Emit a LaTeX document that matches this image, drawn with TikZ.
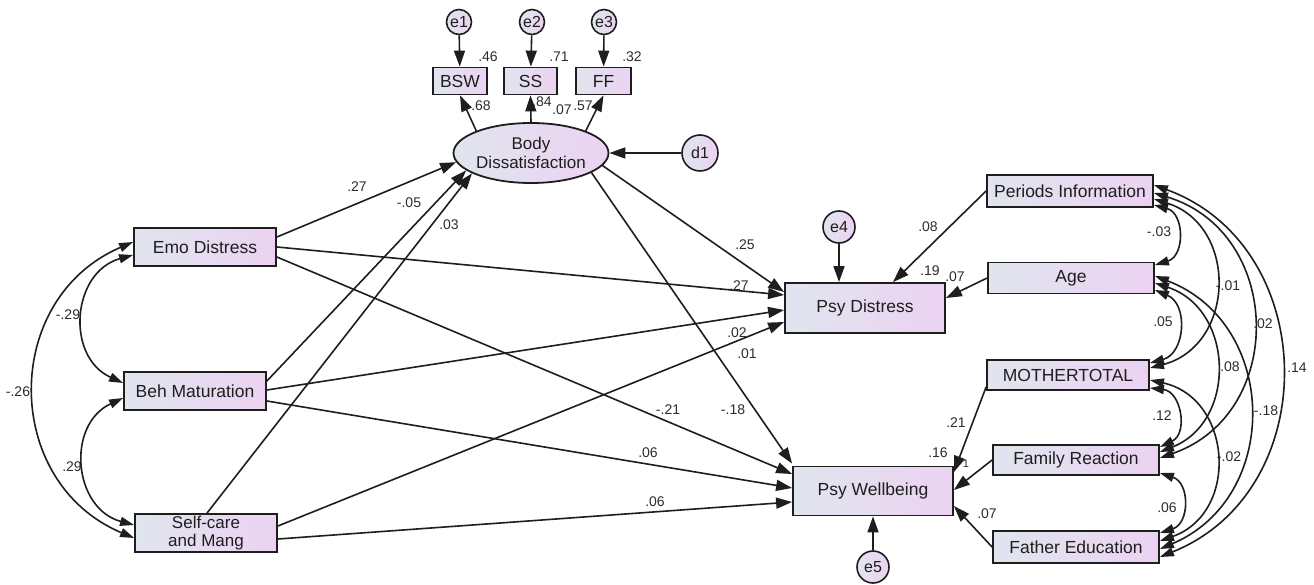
\documentclass[tikz,border=0pt]{standalone}
\usepackage{fontspec}
\setmainfont{Liberation Sans}
\usetikzlibrary{arrows.meta,shapes.geometric}
\definecolor{gL}{RGB}{224,229,238}
\definecolor{gR}{RGB}{236,210,242}
\definecolor{ink}{RGB}{30,30,30}
\definecolor{lblc}{RGB}{45,45,45}
\tikzset{
  obsbox/.style={draw=ink, line width=1.8pt, rectangle, left color=gL, right color=gR,
    inner sep=0pt, align=center, text=ink, font=\fontsize{17.5}{17}\selectfont},
  errc/.style={draw=ink, line width=1.6pt, circle, left color=gL, right color=gR,
    inner sep=0pt, text=ink, font=\fontsize{16}{16}\selectfont},
  latv/.style={draw=ink, line width=1.8pt, ellipse, left color=gL, right color=gR,
    inner sep=0pt, align=center, text=ink, font=\fontsize{17}{19}\selectfont},
  lbl/.style={inner sep=0pt, text=lblc, font=\fontsize{14}{15}\selectfont},
  reg/.style={draw=ink, line width=1.6pt, -{Triangle[length=16pt,width=11pt]}},
  cov/.style={draw=ink, line width=1.6pt, {Triangle[length=14pt,width=9pt]}-{Triangle[length=14pt,width=9pt]}},
}
\begin{document}
\begin{tikzpicture}[x=1pt,y=-1pt]
\useasboundingbox (0,0) rectangle (1314,585);
\fill[white] (0,0) rectangle (1314,585);

% error circles top
\node[errc, minimum size=25pt] (e1) at (459,22) {e1};
\node[errc, minimum size=25pt] (e2) at (532,22) {e2};
\node[errc, minimum size=25pt] (e3) at (604,22) {e3};
% indicators
\node[obsbox, minimum width=54pt, minimum height=27pt] (BSW) at (460,81) {BSW};
\node[obsbox, minimum width=53pt, minimum height=27pt] (SS) at (530.5,81) {SS};
\node[obsbox, minimum width=55pt, minimum height=27pt] (FF) at (603.5,81) {FF};
% latent
\node[latv, minimum width=148pt, minimum height=60pt] (BD) at (531,153) {Body\\Dissatisfaction};
\node[errc, minimum size=36pt] (d1) at (700,153) {d1};

% left exogenous
\node[obsbox, minimum width=142pt, minimum height=38pt] (Emo) at (205,247) {Emo Distress};
\node[obsbox, minimum width=142pt, minimum height=38pt] (Beh) at (195,391) {Beh Maturation};
\node[obsbox, minimum width=142pt, minimum height=38pt, font=\fontsize{17}{18}\selectfont] (Self) at (206,533) {Self-care\\and Mang};

% outcomes
\node[obsbox, minimum width=160pt, minimum height=50pt] (PD) at (865,308) {Psy Distress};
\node[obsbox, minimum width=160pt, minimum height=49pt] (PW) at (873,491) {Psy Wellbeing};
\node[errc, minimum size=32pt] (e4) at (839,227) {e4};
\node[errc, minimum size=32pt] (e5) at (873,567) {e5};

% right exogenous
\node[obsbox, minimum width=166pt, minimum height=32pt] (PI) at (1070,191) {Periods Information};
\node[obsbox, minimum width=166pt, minimum height=31pt] (Age) at (1071,278) {Age};
\node[obsbox, minimum width=162pt, minimum height=30pt] (MT) at (1068,375) {MOTHERTOTAL};
\node[obsbox, minimum width=166pt, minimum height=30pt] (FR) at (1076,460) {Family Reaction};
\node[obsbox, minimum width=166pt, minimum height=32pt] (FE) at (1076,547) {Father Education};

% measurement
\draw[reg] (e1) -- (BSW);
\draw[reg] (e2) -- (SS);
\draw[reg] (e3) -- (FF);
\draw[reg] (BD.158) -- (BSW.south);
\draw[reg] (BD.north) -- (SS.south);
\draw[reg] (BD.22) -- (FF.south);
\draw[reg] (d1) -- (BD);

% paths to BD
\draw[reg] ([yshift=10pt]Emo.east) -- (BD.187);
\draw[reg] ([yshift=10pt]Beh.east) -- (BD.195);
\draw[reg] ([xshift=1pt]Self.north) -- (BD.199);

% paths to PD
\draw[reg] (BD.-10) -- ([yshift=16pt]PD.west);
\draw[reg] (Emo.east) -- ([yshift=13pt]PD.west);
\draw[reg] ([yshift=1pt]Beh.east) -- ([yshift=-2pt]PD.west);
\draw[reg] ([yshift=7pt]Self.east) -- ([yshift=-14pt]PD.west);
\draw[reg] (e4) -- ([xshift=-26pt]PD.north);
\draw[reg] (PI.west) -- ([xshift=28pt]PD.north);
\draw[reg] (Age.west) -- ([yshift=10pt]PD.east);

% paths to PW
\draw[reg] (BD.-18) -- ([yshift=2pt]PW.north west);
\draw[reg] ([yshift=-10pt]Emo.east) -- ([yshift=17pt]PW.west);
\draw[reg] ([yshift=-10pt]Beh.east) -- ([yshift=3pt]PW.west);
\draw[reg] ([yshift=-6pt]Self.east) -- ([yshift=-11pt]PW.west);
\draw[reg] (e5) -- (PW.south);
\draw[reg] ([yshift=-12pt]MT.west) -- ([yshift=19pt]PW.east);
\draw[reg] (FR.west) -- ([yshift=1pt]PW.east);
\draw[reg] (FE.west) -- ([yshift=-15pt]PW.east);

% left covariances
\draw[cov] ([yshift=-8pt]Emo.west) to[bend right=70, looseness=1.27] ([yshift=8pt]Beh.west);
\draw[cov] ([yshift=-7pt]Beh.west) to[bend right=70, looseness=1.27] ([yshift=8pt]Self.west);
\draw[cov] ([yshift=5pt]Emo.west) to[bend right=67, looseness=1.24] ([yshift=-5pt]Self.west);

% right covariances
\draw[cov] ([yshift=-14pt]PI.east) to[bend left=74, looseness=1.35] ([yshift=13pt]Age.east);
\draw[cov] ([yshift=-12pt]Age.east) to[bend left=71, looseness=1.28] ([yshift=12pt]MT.east);
\draw[cov] ([yshift=-13pt]MT.east) to[bend left=74, looseness=1.35] ([yshift=13pt]FR.east);
\draw[cov] ([yshift=-13pt]FR.east) to[bend left=72, looseness=1.35] ([yshift=14pt]FE.east);
\draw[cov] ([yshift=-8pt]PI.east) to[bend left=74, looseness=1.34] ([yshift=7pt]MT.east);
\draw[cov] ([yshift=-5pt]Age.east) to[bend left=70, looseness=1.26] ([yshift=8pt]FR.east);
\draw[cov] ([yshift=-5pt]MT.east) to[bend left=74, looseness=1.34] ([yshift=6pt]FE.east);
\draw[cov] ([yshift=-2pt]PI.east) to[bend left=72, looseness=1.30] ([yshift=2pt]FR.east);
\draw[cov] ([yshift=2pt]Age.east) to[bend left=68, looseness=1.24] ([yshift=-2pt]FE.east);
\draw[cov] ([yshift=6pt]PI.east) to[bend left=69, looseness=1.22] ([yshift=-10pt]FE.east);

% labels top
\node[lbl] (l01) at (488,57) {.46};
\node[lbl] (l02) at (559,57) {.71};
\node[lbl] (l03) at (632,57) {.32};
\node[lbl] (l04) at (481,106) {.68};
\node[lbl] (l05) at (542,102) {.84};
\node[lbl] (l06) at (562,110) {.07};
\node[lbl] (l07) at (583,106) {.57};
% labels paths to BD
\node[lbl] (l08) at (357,187) {.27};
\node[lbl] (l09) at (409,203) {-.05};
\node[lbl] (l10) at (449,225) {.03};
% labels center
\node[lbl] (l11) at (745,245) {.25};
\node[lbl] (l12) at (739,286) {.27};
\node[lbl] (l13) at (737,333) {.02};
\node[lbl] (l14) at (747,354) {.01};
\node[lbl] (l15) at (668,410) {-.21};
\node[lbl] (l16) at (733,410) {-.18};
\node[lbl] (l17) at (648,453) {.06};
\node[lbl] (l18) at (655,502) {.06};
\node[lbl] (l19) at (928,227) {.08};
\node[lbl] (l20) at (930,271) {.19};
\node[lbl] (l21) at (955,277) {.07};
\node[lbl] (l22) at (956,423) {.21};
\node[lbl] (l23) at (938,453) {.16};
\node[lbl, font=\fontsize{11}{12}\selectfont] (l24) at (966,464) {1};
\node[lbl] (l25) at (987,514) {.07};
% labels left covariances
\node[lbl] (l26) at (68,315) {-.29};
\node[lbl] (l27) at (72,467) {.29};
\node[lbl] (l28) at (18,392) {-.26};
% labels right covariances
\node[lbl] (l29) at (1159,232) {-.03};
\node[lbl] (l30) at (1163,322) {.05};
\node[lbl] (l31) at (1162,416) {.12};
\node[lbl] (l32) at (1167,508) {.06};
\node[lbl] (l33) at (1228,286) {-.01};
\node[lbl] (l34) at (1263,324) {.02};
\node[lbl] (l35) at (1230,367) {.08};
\node[lbl] (l36) at (1297,368) {.14};
\node[lbl] (l37) at (1266,411) {-.18};
\node[lbl] (l38) at (1229,457) {-.02};
\end{tikzpicture}
\end{document}
